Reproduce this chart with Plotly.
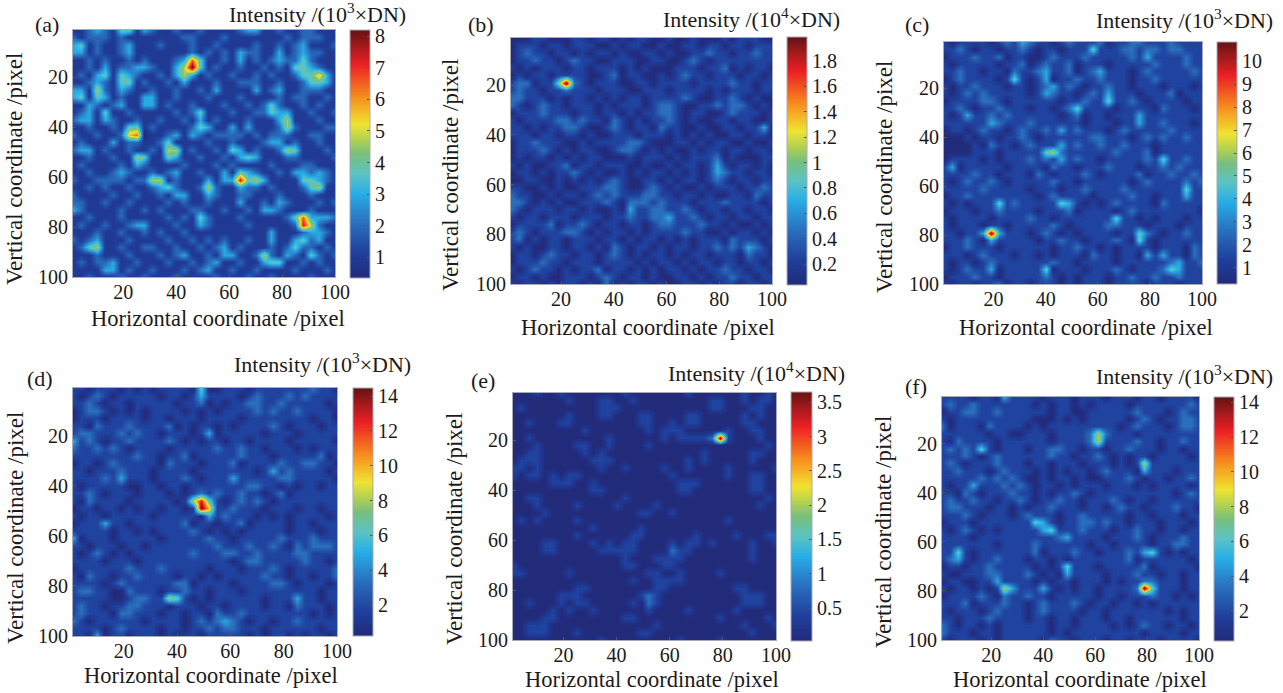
import plotly.graph_objects as go

W, H = 1283, 693
GRID = list(range(1, 101, 3))  # sample positions of the level tables, in pixels

# Levels on a 3-pixel grid: one string per row, one digit per sample.
rows_a = """
1123214413 2112112111 1233112112 2111
2122212111 1111221112 1111111212 2211
3412112311 1211121121 1112112123 1112
3312112311 1111121212 1322113123 2211
1121211212 1112374112 1312123224 2111
1121312233 2113594121 1211212144 3211
1213414321 1213531211 2112121124 4631
1123214412 1121311121 1222112112 4431
3315213211 2112112131 1113123112 2211
3414312113 3112111211 1211112122 1121
1132123113 3121121112 1121242112 1211
1231411211 1112124111 2112243311 2112
2331321121 1211213121 1121113511 1211
1121121441 2111124311 3131112521 1122
2112112670 1123132122 2212122211 2211
1211131221 1241111211 2111233121 1211
2331211211 2155121121 4312112541 1121
1121121154 1143112112 1343111221 1112
1211112132 1111211121 2111121112 2111
1121123211 2123112113 1432112133 2321
2112222122 5512111313 3845311114 4321
1121211211 2342112521 1322121112 4511
2111121121 1213311321 1221112111 2111
2211211211 1121211211 1311213211 1212
3211112112 1211122112 1121332111 2111
1121112111 1121214211 1211111247 3332
1211211233 1112113211 1121111128 5211
1112112112 1211211111 1111131112 3321
2123111211 1121121212 1121131134 2311
1245112112 2112112123 1211121242 2121
1112111211 1212311213 3112521321 4212
1212231121 1121121231 1211344112 1211
1111331211 2111212311 2112111121 1121
1121112112 1112111121 1121121111 2111
"""

rows_b = """
0001100011 0110101100 1001000101 1100
0111011011 1001011001 0011011011 0111
0121101101 0110100110 1001121101 1211
0112110121 1001110011 0012101111 1111
1010111011 0111010100 0111011201 0110
0101101111 0012011001 0121101110 1101
1220114921 0111001101 1110111121 1011
1211011211 1011100111 0111101011 1011
2211101011 0101011011 1121001121 0100
2101211011 1010111012 2100112122 1010
0111211101 1011010112 2101100121 1101
1011112212 1102101011 2101001101 1001
1101011221 0012101102 1100100110 1130
1110110110 1001110111 0101010011 0110
0112111001 0111122100 0110101100 1001
0111210101 1001221010 1001011011 0110
0101101010 1100010111 0101112010 0011
1010011201 1011100100 1011013101 1010
0110101121 0100101011 0101013211 0110
0011001010 1012100110 1011012101 1011
1100101001 1122100121 0100101110 1121
2110010110 1212111221 1011010011 0211
2210101001 1121022212 1110111211 1101
2101110110 1001031122 1121011011 0110
1011011101 1101121122 3112101101 1011
0111120112 1011011012 2111211010 0101
1210111221 0101101011 1121100101 1010
1201011011 1011010110 1010111021 1101
1010011011 0102101101 0110112121 3210
0110121101 1012101011 0101101110 2110
0111211011 1011110101 1010110110 1101
1012110101 1201101010 1101011211 0110
0110100111 0121011010 0110101121 1011
1011010110 1020101101 0011010110 1101
"""

rows_c = """
1011110121 3211012111 2011221112 1111
1121011011 2101101114 1112212212 2111
0111211201 1001211121 1111213111 1211
1011111011 2012112011 1011111211 1211
1121101102 1123112012 3111012111 1121
0121111014 1013011211 2111011211 1111
1011211101 1012312101 1211011101 1101
1012121111 1013211012 1311101112 0111
0111122101 1111101121 1411210111 1011
1121011211 1011012411 1101111021 1101
1013112121 1111101201 1011131111 1111
1111113211 1211111101 1101131121 1101
0110121101 2112131211 1012111112 1111
0001011011 2101111112 2111012121 1211
0000102110 1211131211 2112111011 1111
0000111011 1114521111 1121112011 1111
0111101011 1212131211 0111112141 1211
1301111101 1110211011 1211101121 2111
1111211011 1021011121 0111120112 1121
1012112101 1111211011 1111012111 1212
1111121111 1011101121 1112111111 1411
0112111111 1101211110 1111211011 1311
1010111412 1111143101 0121111021 1111
0111011211 1101112011 1101211111 1110
1011110111 1211011111 1141101011 1011
1011101101 1111210111 1221110111 0111
1101139311 1012101011 1101142101 1211
1112103111 1101121101 1121041011 1111
0112111011 1111011211 0101111011 1021
1110121110 1101011102 1101103131 1021
1011012111 1111211011 1101111112 3112
1012113011 1114011101 1121011124 3111
0111211011 1112101011 1011211211 2111
1011011201 1011101011 1011110111 0111
"""

rows_d = """
1101110101 0111104001 1101111111 2110
1012101111 1011013111 1012111212 1111
1121011011 1110112010 1122112111 1101
0122101010 1111010101 1112121121 1110
0111011110 1101110111 1011111111 0110
1102111211 1120101101 0111121011 1011
1221112121 1011101301 1111011101 1111
3121011211 1121010110 1101111011 1110
2112121011 1101111121 1211011101 0111
1111111121 1011201111 1211101111 1201
0110121111 1021110111 2011112112 2110
1101112111 0111101111 1110131211 1101
1111213111 0111210111 3111112211 1110
1011111001 1011011111 1122110101 1011
1121011101 1101012121 1211012011 1111
1021111011 1110158410 1212101111 1111
0110110101 1011019611 2111011101 1011
1011011111 0111110312 1110101011 1101
0111311011 1111201101 1201111011 0111
1111101101 0111121010 1011111011 1011
3011101111 1011111211 0111112111 2111
1101110110 1111111121 1121121021 2221
1012101011 1111121112 2112111122 1111
1111011101 1111111111 0122111112 1101
0111111211 1211111011 1011121011 1112
1021101121 1110110101 1111211011 0112
1111012111 1112201111 0111122101 1101
1221100211 1011211011 1011111111 1011
1111100122 1154101011 1111011131 1011
1211011221 1101110110 1111011021 1101
1211102211 1011011021 1211111111 0101
2101111110 1111012123 2101101121 1111
1111012111 1011011212 2111011111 1011
1103011011 1010110111 1101011010 1101
"""

rows_e = """
0001001000 0000100000 0010000001 0010
0000000100 0110010000 0000011001 0110
0100000000 0111000000 0000011000 1100
0000000100 0110001100 0011000001 0100
0010001100 0000001100 1011000001 1000
0000000001 0000000101 1100000100 1100
0010000000 0010000001 0111129100 0100
0001000011 0010000100 0000000000 0010
0011000001 0100000000 0000100000 1100
0111000000 1110000000 0010100000 1000
1101000000 0100100001 0010000100 0001
1011010110 0000000000 1000000100 1100
0000011100 1000000000 0111000000 1100
0000000000 1100000000 0110000000 1100
0011000000 0000100000 0000000000 0010
0001000010 0001000010 0000000000 0100
0000100000 0000001100 1000000000 0000
0101000010 0000000000 0000000100 0000
0000000000 1000001000 0000000000 0000
0000000010 0000011000 0001000010 0011
0000110000 1010110000 1011010000 1001
0000110000 0111110000 2110000000 1000
0000000000 0000100011 1100000000 1000
1000000000 0000110001 1000000000 0000
1100000100 0000000110 0100001000 0000
0000000000 0000010011 1100000000 0000
0000000011 0000000011 0000000011 0000
0000001110 0000001210 0000000001 1100
0010001011 0000010210 0000000001 1100
0000010100 1000000100 0010000010 0000
0000110000 0000110000 0000001000 0010
0011100000 0000000010 0000000001 0001
0011100010 0000001100 0000000000 1000
0000000000 0100000000 0100001000 0000
"""

rows_f = """
1111011031 1110111011 1011101101 1110
1211211111 1101011010 1111011111 1121
0112211211 1111011001 1111121110 1211
1011111111 1100010101 1111012101 1221
2011102111 1010111111 1110121110 1221
1111110110 0111011112 5211101111 1111
1021111011 1111011112 5111121101 1211
1212141011 1011221101 1011211101 1011
1112101211 1111211011 2101011011 1101
1210111211 1011011101 1101015111 1111
1121110121 1101010110 1211103111 0111
1111121212 1001011010 0111210110 1121
1011311121 2101101011 1011101011 1101
1102101112 1101011210 1111111111 0121
1211211011 2101121101 1121011011 1111
1221110110 1011211101 1012110111 2110
1112101110 1211101121 1111011011 1011
0111011111 1143101122 1211011101 1101
1012101011 1113411121 1101121101 1011
1111011111 1111123111 1011121011 1211
1111111011 1121111110 1101111011 2211
1141011111 1120111211 0111213410 1011
1231011211 1011010111 1111201111 1101
0110112111 1101014111 0111112011 1110
1001112211 1210103111 1011121101 1011
0110011311 1101011011 1010112211 1011
1011010153 1113101011 0111129411 1011
0111121021 1211011111 0110111211 0101
1112011121 1012111210 1101101011 1111
1011101211 1012111101 1011111110 1011
1101112111 1011011011 1011011111 1011
2101101011 1111011011 1101012110 1101
2111011011 1111010111 1111110111 1011
1011101011 1110211011 1011011101 1110
"""

labels = ["(a)", "(b)", "(c)", "(d)", "(e)", "(f)"]
exponents = [3, 4, 3, 3, 4, 3]
zmins = [0.34, 0.035, 0.3, 0.22, 0.02, 0.28]
zmaxs = [8.2, 1.99, 10.83, 14.46, 3.65, 14.3]
cbar_ticks = [
    [1, 2, 3, 4, 5, 6, 7, 8],
    [0.2, 0.4, 0.6, 0.8, 1, 1.2, 1.4, 1.6, 1.8],
    [1, 2, 3, 4, 5, 6, 7, 8, 9, 10],
    [2, 4, 6, 8, 10, 12, 14],
    [0.5, 1, 1.5, 2, 2.5, 3, 3.5],
    [2, 4, 6, 8, 10, 12, 14],
]
axis_ticks = [20, 40, 60, 80, 100]

# Share of each panel's intensity range that a table digit 0-9 stands for
levels_a = [0, 0.07, 0.20, 0.33, 0.44, 0.55, 0.66, 0.78, 0.89, 1.0]
levels_std = [0, 0.11, 0.22, 0.33, 0.44, 0.55, 0.66, 0.78, 0.89, 1.0]
panel_levels = [levels_a, levels_std, levels_std, levels_std, levels_std, levels_std]

# Pixel layout: plot x0, x1, y0, y1 ; colour bar x0, x1, y0, y1
plots = [(73, 335, 30, 277), (511, 772, 38, 284), (944, 1202, 42, 284),
         (73, 337, 388, 636), (513, 776, 393, 640), (942, 1199, 397, 640)]
bars = [(350, 370, 30, 278), (787, 807, 37, 285), (1217, 1237, 42, 284),
        (353, 373, 388, 636), (791, 812, 392, 641), (1214, 1234, 397, 641)]
title_pos = [(227, 13), (661, 18), (1094, 19), (232, 363), (666, 372), (1094, 375)]
label_pos = [(33, 25), (466, 25), (903, 24), (25, 378), (469, 380), (903, 386)]
xlab_pos = [(218, 318), (648, 327), (1086, 327), (211, 675), (652, 679), (1080, 679)]
ylab_pos = [(14, 169), (450, 175), (884, 177), (15, 528), (454, 529), (883, 532)]

colors = [
    [0.0, "#222a7a"], [0.10, "#1f3f9c"], [0.22, "#2a6fbd"], [0.34, "#27aee6"],
    [0.42, "#5cc3c4"], [0.50, "#78bf7c"], [0.56, "#b5d24f"], [0.62, "#f0e332"],
    [0.72, "#f7951e"], [0.86, "#ec2024"], [0.93, "#a81a1c"], [1.0, "#651313"],
]

FONT = "Liberation Serif"
INK = "#1c1a1a"
FRAME = "#a9a9b8"
TICK_SIZE = 20
TEXT_SIZE = 22
XLABEL_SIZE = 22.5
YLABEL_SIZE = 23


def decode(text, zmin, zmax, levels):
    table = []
    for line in text.strip().splitlines():
        digits = line.replace(" ", "").ljust(len(GRID), "1")[:len(GRID)]
        table.append([zmin + levels[int(d)] * (zmax - zmin) for d in digits])
    return table


def px(x):
    return x / W


def py(y):
    return 1 - y / H


tables = [rows_a, rows_b, rows_c, rows_d, rows_e, rows_f]
fig = go.Figure()
notes = []
layout_axes = {}

for n in range(6):
    suffix = "" if n == 0 else str(n + 1)
    x0, x1, y0, y1 = plots[n]
    bx0, bx1, by0, by1 = bars[n]
    fig.add_trace(go.Heatmap(
        x=GRID, y=GRID, z=decode(tables[n], zmins[n], zmaxs[n], panel_levels[n]),
        zmin=zmins[n], zmax=zmaxs[n], zsmooth="best", colorscale=colors,
        xaxis="x" + suffix, yaxis="y" + suffix, hoverinfo="skip",
        colorbar=dict(
            x=px(bx0), xanchor="left", xpad=0, ypad=0,
            y=py(by1), yanchor="bottom", len=(by1 - by0) / H, lenmode="fraction",
            thickness=bx1 - bx0, thicknessmode="pixels",
            tickvals=cbar_ticks[n], ticktext=[str(t) for t in cbar_ticks[n]],
            ticks="inside", ticklen=3, tickcolor="#555555",
            tickfont=dict(family=FONT, size=TICK_SIZE, color=INK),
            outlinecolor=FRAME, outlinewidth=1,
        ),
    ))
    common = dict(
        tickvals=axis_ticks, ticks="inside", ticklen=3, tickcolor="#555555",
        tickfont=dict(family=FONT, size=TICK_SIZE, color=INK), showgrid=False, zeroline=False,
        showline=True, linecolor=FRAME, linewidth=1, mirror=True,
    )
    layout_axes["xaxis" + suffix] = dict(
        common, domain=[px(x0), px(x1)], range=[1, 100],
        anchor="y" + suffix, ticklabelstandoff=-3)
    layout_axes["yaxis" + suffix] = dict(
        common, domain=[py(y1), py(y0)], range=[100, 1],
        anchor="x" + suffix)
    notes.append(dict(text="Intensity /(10<sup>%d</sup>×DN)" % exponents[n],
                      x=px(title_pos[n][0]), y=py(title_pos[n][1]),
                      xanchor="left", yanchor="middle", size=TEXT_SIZE))
    notes.append(dict(text=labels[n], x=px(label_pos[n][0]), y=py(label_pos[n][1]),
                      xanchor="left", yanchor="middle", size=TEXT_SIZE))
    notes.append(dict(text="Horizontal coordinate /pixel",
                      x=px(xlab_pos[n][0]), y=py(xlab_pos[n][1]),
                      xanchor="center", yanchor="middle", size=XLABEL_SIZE))
    notes.append(dict(text="Vertical coordinate /pixel",
                      x=px(ylab_pos[n][0]), y=py(ylab_pos[n][1]),
                      xanchor="center", yanchor="middle", textangle=-90, size=YLABEL_SIZE))

for note in notes:
    size = note.pop("size")
    note.update(xref="paper", yref="paper", showarrow=False,
                font=dict(family=FONT, size=size, color=INK))

fig.update_layout(
    width=W, height=H, margin=dict(l=0, r=0, t=0, b=0, autoexpand=False),
    paper_bgcolor="white", plot_bgcolor="white",
    annotations=notes, showlegend=False, **layout_axes,
)

fig.write_html("out.html", config={"displayModeBar": False},
               post_script="document.body.style.margin='0';document.body.style.overflow='hidden';")
